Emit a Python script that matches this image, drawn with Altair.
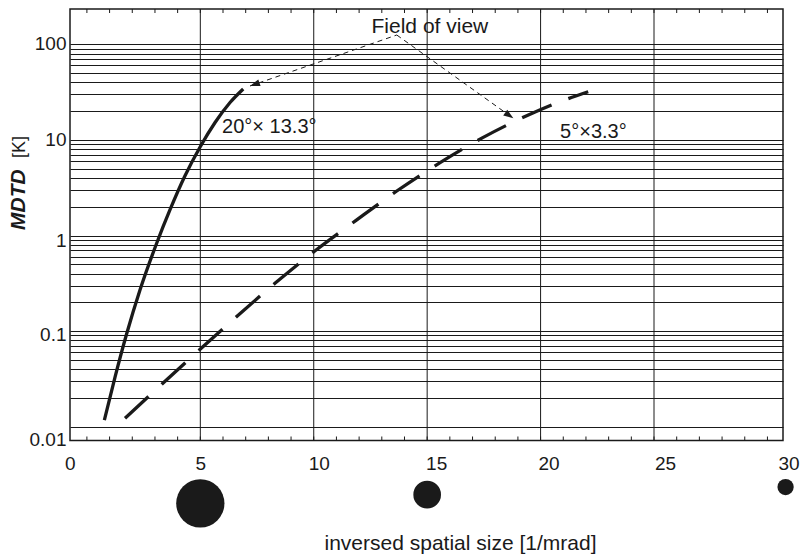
import altair as alt
import pandas as pd

# ---------------- data ----------------
solid_x = [0.77, 1.24, 1.75, 2.34, 3.08, 3.66, 4.32, 4.99, 5.65, 6.31, 6.89]
solid_y = [0.01175, 0.0331, 0.0933, 0.269, 0.835, 1.85, 4.19, 8.43, 15.2, 24.6, 34.1]

dashed_x = [1.68, 3.30, 4.99, 6.63, 8.29, 10.06, 11.85, 13.66, 15.57, 17.45, 19.46, 20.78, 22.10]
dashed_y = [0.01225, 0.0278, 0.0645, 0.144, 0.316, 0.693, 1.43, 2.92, 5.78, 10.55, 18.2, 24.7, 31.9]

x_label_vals = [0, 5, 10, 15, 20, 25, 30]
x_grid_vals = [5, 10, 15, 20, 25]
x_minor_vals = list(range(0, 31))

circ_x = [5.0, 15.0, 30.8]
circ_y = [0.00158, 0.00195, 0.00234]
circ_size = [2330, 765, 265]

arrow_seg = ["L", "L", "R", "R"]
arrow_x = [13.66, 7.19, 13.66, 18.80]
arrow_y = [125.0, 36.6, 125.0, 16.8]
head_x = [7.19, 18.80]
head_y = [36.6, 16.8]
head_angle = [250.8, 125.5]

note_text = ["Field of view", "20°× 13.3°", "5°×3.3°"]
note_x = [15.12, 5.96, 20.86]
note_y = [132.0, 11.7, 10.4]
note_align = ["center", "left", "left"]
note_size = [21, 20, 20]

y_grid_vals = []
for e in (-2, -1, 0, 1):
    for k in range(1, 10):
        y_grid_vals.append(round(k * 10.0 ** e, 6))
y_grid_vals.append(100.0)

FONT = "Liberation Sans"
INK = "#1a1a1a"
W, H = 713, 431.5
TICK = 4

xscale = alt.Scale(domain=[-0.745, 30.686], nice=False, zero=False)
yscale = alt.Scale(type="log", domain=[0.00718, 233.8], nice=False)

# ---------------- axes (same objects used in every layer) ----------------
x_axis = alt.Axis(
    orient="bottom", values=x_label_vals, grid=False, ticks=False, domain=False,
    labelFont=FONT, labelFontSize=19, labelColor=INK, labelPadding=14,
    labelOverlap=False, labelFlush=False,
    labelOffset={"condition": [
        {"test": "datum.value == 0", "value": -17},
        {"test": "datum.value == 10", "value": 5},
        {"test": "datum.value == 15", "value": 9},
        {"test": "datum.value == 20", "value": 8},
        {"test": "datum.value == 25", "value": 11},
        {"test": "datum.value == 30", "value": 21},
    ], "value": 0},
    title="inversed spatial size [1/mrad]", titleFont=FONT, titleFontSize=21,
    titleFontWeight="normal", titleColor=INK, titleX=390, titleY=108.5,
    titleAlign="center", titleBaseline="alphabetic",
)

y_axis = alt.Axis(
    orient="left", values=y_grid_vals, grid=True, gridColor=INK, gridWidth=1,
    gridOpacity=1, ticks=False, domain=False,
    labelExpr="datum.value == 0.01 ? '0.01' : datum.value == 0.1 ? '0.1' : "
              "datum.value == 1 ? '1' : datum.value == 10 ? '10' : "
              "datum.value == 100 ? '100' : ''",
    labelFont=FONT, labelFontSize=19, labelColor=INK, labelPadding=4,
    labelOverlap=False, labelFlush=False,
    labelOffset={"condition": [
        {"test": "datum.value == 100", "value": -1},
        {"test": "datum.value == 1", "value": 5},
        {"test": "datum.value == 0.1", "value": 3},
        {"test": "datum.value == 0.01", "value": 13},
    ], "value": 0},
    title=" ",
)

def X(field):
    return alt.X(field, scale=xscale, axis=x_axis)

def Y(field):
    return alt.Y(field, scale=yscale, axis=y_axis)

# ---------------- layers ----------------
solid = alt.Chart(pd.DataFrame({"x": solid_x, "y": solid_y})).mark_line(
    color=INK, strokeWidth=3.3, interpolate="monotone"
).encode(x=X("x:Q"), y=Y("y:Q"))

grid_layer = alt.Chart(pd.DataFrame({"v": x_grid_vals})).mark_rule(
    color=INK, strokeWidth=1
).encode(x=X("v:Q"))

minor_df = pd.DataFrame({"v": x_minor_vals})
minor_bottom = alt.Chart(minor_df).mark_rule(color=INK, strokeWidth=1).encode(
    x=X("v:Q"), y=alt.value(H - TICK), y2=alt.value(H))
minor_top = alt.Chart(minor_df).mark_rule(color=INK, strokeWidth=1).encode(
    x=X("v:Q"), y=alt.value(0), y2=alt.value(TICK))

dashed = alt.Chart(pd.DataFrame({"x": dashed_x, "y": dashed_y})).mark_line(
    color=INK, strokeWidth=3.3, strokeDash=[32, 18], interpolate="monotone"
).encode(x=X("x:Q"), y=Y("y:Q"))

circles = alt.Chart(pd.DataFrame({"x": circ_x, "y": circ_y, "s": circ_size})).mark_circle(
    color=INK, opacity=1
).encode(x=X("x:Q"), y=Y("y:Q"), size=alt.Size("s:Q", scale=None, legend=None))

arrows = alt.Chart(pd.DataFrame({"seg": arrow_seg, "x": arrow_x, "y": arrow_y})).mark_line(
    color=INK, strokeWidth=1, strokeDash=[5, 4]
).encode(x=X("x:Q"), y=Y("y:Q"), detail="seg:N")

heads = alt.Chart(pd.DataFrame({"x": head_x, "y": head_y, "a": head_angle})).mark_point(
    shape="M0,0L-0.35,1L0.35,1Z", filled=True, color=INK, opacity=1, size=400
).encode(x=X("x:Q"), y=Y("y:Q"), angle=alt.Angle("a:Q", scale=None))

notes_df = pd.DataFrame({"t": note_text, "x": note_x, "y": note_y,
                         "al": note_align, "fs": note_size})
note_layers = []
for al in ("center", "left"):
    note_layers.append(
        alt.Chart(notes_df[notes_df["al"] == al]).mark_text(
            font=FONT, color=INK, align=al, baseline="alphabetic"
        ).encode(x=X("x:Q"), y=Y("y:Q"), text="t:N",
                 size=alt.Size("fs:Q", scale=None, legend=None))
    )

ytitle_a = alt.Chart(pd.DataFrame({"t": ["MDTD"]})).mark_text(
    font=FONT, fontSize=21, fontStyle="italic", fontWeight="bold", color=INK,
    angle=270, align="left", baseline="alphabetic"
).encode(x=alt.value(-45.5), y=alt.value(221), text="t:N")

ytitle_b = alt.Chart(pd.DataFrame({"t": ["[K]"]})).mark_text(
    font=FONT, fontSize=18, color=INK, angle=270, align="left", baseline="alphabetic"
).encode(x=alt.value(-45.5), y=alt.value(149), text="t:N")

chart = alt.layer(
    solid, grid_layer, minor_bottom, minor_top, dashed, circles, arrows, heads,
    *note_layers, ytitle_a, ytitle_b
).properties(
    width=W, height=H,
    autosize=alt.AutoSizeParams(type="none"),
    padding={"left": 70, "top": 9, "right": 18, "bottom": 113.5},
    background="white",
).configure_view(stroke=INK, strokeWidth=1.5)

chart.save("out.html", embed_options={"renderer": "svg", "actions": False})
